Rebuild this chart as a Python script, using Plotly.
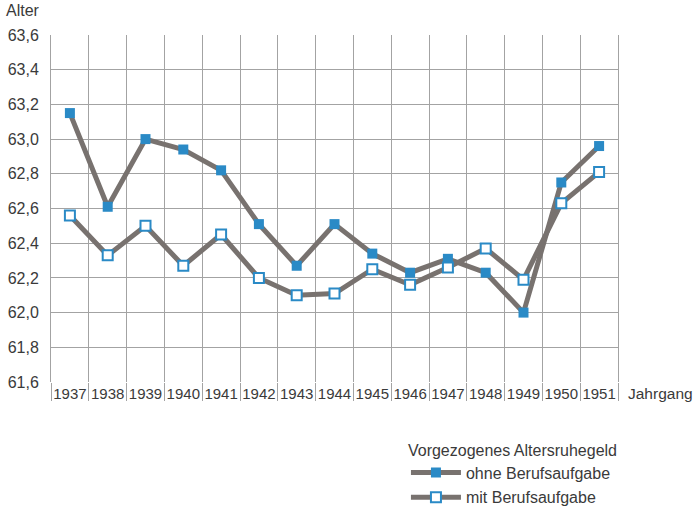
import plotly.graph_objects as go

jahrgang = ["1937", "1938", "1939", "1940", "1941", "1942", "1943", "1944",
            "1945", "1946", "1947", "1948", "1949", "1950", "1951"]
ohne_berufsaufgabe = [63.15, 62.61, 63.00, 62.94, 62.82, 62.51, 62.27, 62.51,
                      62.34, 62.23, 62.31, 62.23, 62.00, 62.75, 62.96]
mit_berufsaufgabe = [62.56, 62.33, 62.50, 62.27, 62.45, 62.20, 62.10, 62.11,
                     62.25, 62.16, 62.26, 62.37, 62.19, 62.63, 62.81]

LINE = "#78726f"
BLUE = "#2a8ac6"
GRID = "#a3a3a3"
TXT = "#3a3a3a"
FONT = "Liberation Sans, Arial, sans-serif"

fig = go.Figure()
fig.add_trace(go.Scatter(
    x=jahrgang, y=ohne_berufsaufgabe, mode="lines+markers",
    name="ohne Berufsaufgabe", legendgroup="a",
    line=dict(color=LINE, width=5),
    marker=dict(symbol="square", size=10, color=BLUE, line=dict(width=0)),
))
fig.add_trace(go.Scatter(
    x=jahrgang, y=mit_berufsaufgabe, mode="lines+markers",
    name="mit Berufsaufgabe", legendgroup="b",
    line=dict(color=LINE, width=5),
    marker=dict(symbol="square", size=10, color="white", line=dict(width=2, color=BLUE)),
))

fig.update_layout(
    width=696, height=510,
    margin=dict(l=51, r=78, t=35, b=128, autoexpand=False),
    paper_bgcolor="white", plot_bgcolor="white",
    separators=",.",
    font=dict(family=FONT, color=TXT, size=15),
    showlegend=True,
    legend=dict(
        title=dict(text="Vorgezogenes Altersruhegeld", font=dict(size=16, color=TXT)),
        x=0.626, xanchor="left", y=-0.152, yanchor="top",
        font=dict(size=16, color=TXT), tracegroupgap=1,
        itemwidth=50, bgcolor="rgba(0,0,0,0)",
    ),
    annotations=[
        dict(text="Alter", xref="paper", yref="paper", x=0, y=1, xanchor="right",
             yanchor="bottom", xshift=-9, yshift=14, showarrow=False,
             font=dict(size=16, color=TXT)),
        dict(text="Jahrgang", xref="paper", yref="paper", x=1, y=0, xanchor="left",
             yanchor="top", xshift=8, yshift=-1, showarrow=False,
             font=dict(size=15.5, color=TXT)),
    ],
)
fig.update_xaxes(
    type="category", tickson="boundaries", showgrid=True, gridcolor=GRID, gridwidth=1,
    showline=False, zeroline=False, ticks="outside", ticklen=18, tickwidth=1,
    tickcolor=GRID, ticklabelstandoff=1,
    tickangle=0, automargin=False,
    tickfont=dict(size=15, color=TXT), range=[-0.5, 14.5],
)
fig.update_yaxes(
    range=[61.6, 63.6], tick0=61.6, dtick=0.2, tickformat=".1f",
    showgrid=True, gridcolor=GRID, gridwidth=1, zeroline=False,
    showline=True, mirror=True, linecolor=GRID, linewidth=1, automargin=False,
    ticks="", tickfont=dict(size=16, color=TXT), ticklabelstandoff=8,
)

fig.write_html("out.html", config={"displayModeBar": False},
               post_script="document.body.style.margin='0';")
